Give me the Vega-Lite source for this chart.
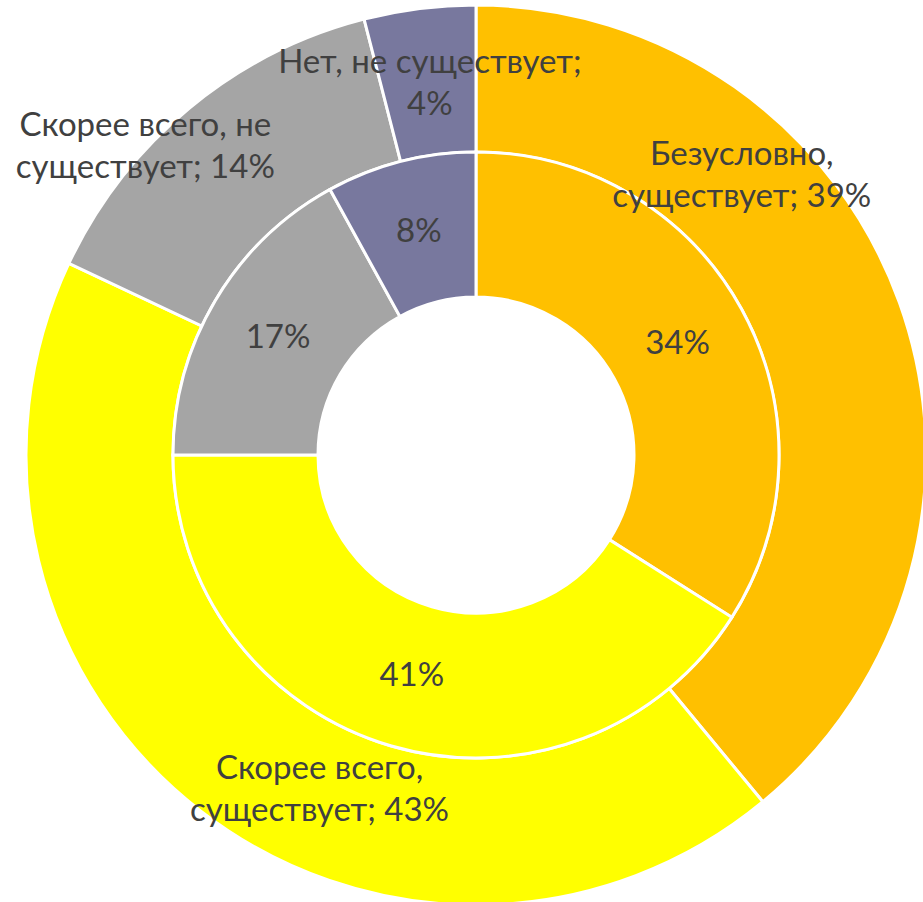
{
  "$schema": "https://vega.github.io/schema/vega-lite/v6.json",
  "width": 894,
  "height": 894,
  "autosize": "none",
  "padding": {"left": 29, "top": 8, "right": 0, "bottom": 0},
  "background": "white",
  "config": {"view": {"stroke": null}},
  "datasets": {
    "outer": [
      {"cat": "Безусловно, существует", "ord": 1, "value": 39, "label": "Безусловно,\nсуществует; 39%"},
      {"cat": "Скорее всего, существует", "ord": 2, "value": 43, "label": "Скорее всего,\nсуществует; 43%"},
      {"cat": "Скорее всего, не существует", "ord": 3, "value": 14, "label": "Скорее всего, не\nсуществует; 14%"},
      {"cat": "Нет, не существует", "ord": 4, "value": 4, "label": "Нет, не существует;\n4%"}
    ],
    "inner": [
      {"cat": "Безусловно, существует", "ord": 1, "value": 34, "label": "34%"},
      {"cat": "Скорее всего, существует", "ord": 2, "value": 41, "label": "41%"},
      {"cat": "Скорее всего, не существует", "ord": 3, "value": 17, "label": "17%"},
      {"cat": "Нет, не существует", "ord": 4, "value": 8, "label": "8%"}
    ]
  },
  "encoding": {
    "theta": {"field": "value", "type": "quantitative", "stack": true},
    "order": {"field": "ord", "type": "quantitative"}
  },
  "layer": [
    {
      "data": {"name": "outer"},
      "mark": {"type": "arc", "radius": 450, "radius2": 303, "stroke": "white", "strokeWidth": 3},
      "encoding": {
        "color": {"field": "cat", "type": "nominal", "legend": null,
          "scale": {"domain": ["Безусловно, существует", "Скорее всего, существует", "Скорее всего, не существует", "Нет, не существует"],
                    "range": ["#FFC000", "#FFFF00", "#A5A5A5", "#78789E"]}}
      }
    },
    {
      "data": {"name": "inner"},
      "mark": {"type": "arc", "radius": 303, "radius2": 158, "stroke": "white", "strokeWidth": 3},
      "encoding": {
        "color": {"field": "cat", "type": "nominal", "legend": null}
      }
    },
    {
      "data": {"name": "inner"},
      "mark": {"type": "text", "radius": 230, "font": "Lato", "fontSize": 33, "fill": "#404040", "baseline": "middle", "align": "center"},
      "encoding": {"text": {"field": "label", "type": "nominal"}}
    },
    {
      "data": {"name": "outer"},
      "mark": {"type": "text", "radius": 376, "dx": -88, "dy": -173, "font": "Lato", "fontSize": 33, "fill": "#404040", "baseline": "middle", "align": "center", "lineBreak": "\n", "lineHeight": 42},
      "encoding": {"text": {"condition": {"test": "datum.ord === 1", "field": "label", "type": "nominal"}, "value": ""}}
    },
    {
      "data": {"name": "outer"},
      "mark": {"type": "text", "radius": 376, "dx": 74, "dy": 17, "font": "Lato", "fontSize": 33, "fill": "#404040", "baseline": "middle", "align": "center", "lineBreak": "\n", "lineHeight": 42},
      "encoding": {"text": {"condition": {"test": "datum.ord === 2", "field": "label", "type": "nominal"}, "value": ""}}
    },
    {
      "data": {"name": "outer"},
      "mark": {"type": "text", "radius": 376, "dx": -91, "dy": -39, "font": "Lato", "fontSize": 33, "fill": "#404040", "baseline": "middle", "align": "center", "lineBreak": "\n", "lineHeight": 42},
      "encoding": {"text": {"condition": {"test": "datum.ord === 3", "field": "label", "type": "nominal"}, "value": ""}}
    },
    {
      "data": {"name": "outer"},
      "mark": {"type": "text", "radius": 376, "dx": 1, "dy": -19, "font": "Lato", "fontSize": 33, "fill": "#404040", "baseline": "middle", "align": "center", "lineBreak": "\n", "lineHeight": 42},
      "encoding": {"text": {"condition": {"test": "datum.ord === 4", "field": "label", "type": "nominal"}, "value": ""}}
    }
  ]
}
